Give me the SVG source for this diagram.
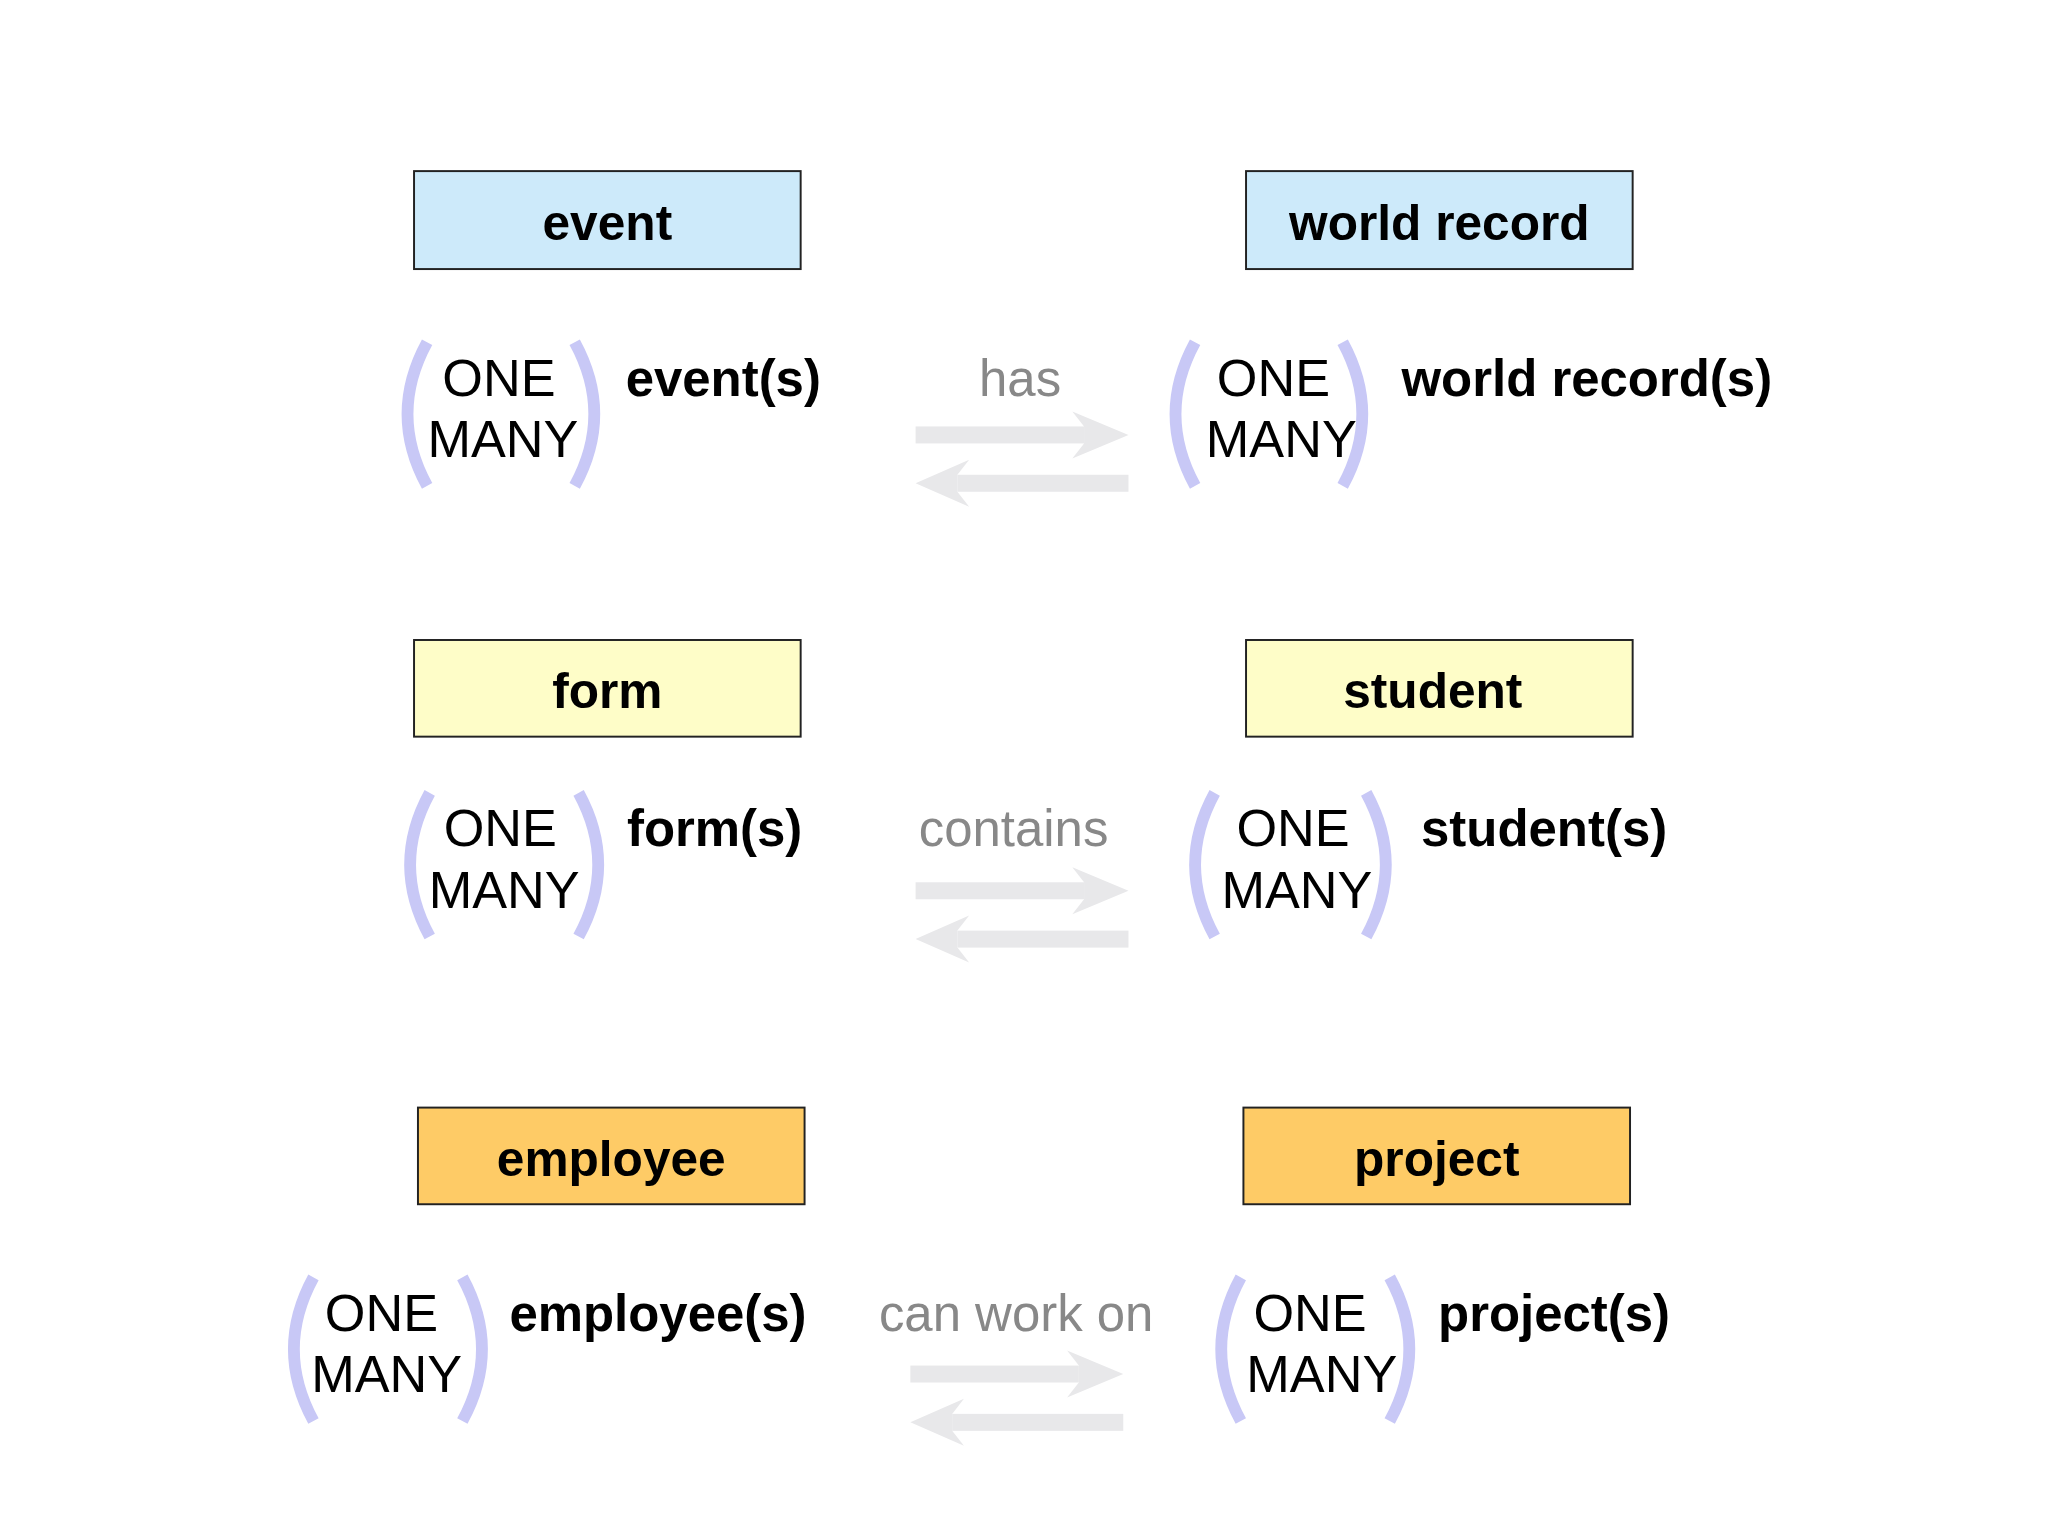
<svg xmlns="http://www.w3.org/2000/svg" width="2048" height="1536" viewBox="0 0 2048 1536">
<style>
.box{stroke:#222;stroke-width:1.5}
.bt{font-family:"Liberation Sans",Arial,sans-serif;font-weight:bold;font-size:38px;text-anchor:middle;fill:#000}
.om{font-family:"Liberation Sans",Arial,sans-serif;font-size:40px;text-anchor:middle;fill:#000}
.lb{font-family:"Liberation Sans",Arial,sans-serif;font-weight:bold;font-size:39px;fill:#000}
.rel{font-family:"Liberation Sans",Arial,sans-serif;font-size:39px;text-anchor:middle;fill:#888}
.par{fill:none;stroke:#c8c8f6;stroke-width:9}
.arr{fill:#e8e8ea}
</style>
<defs>
<g id="pl"><path class="par" d="M12,-55 Q-18,0 12,55"/></g>
<g id="pr"><path class="par" d="M-12,-55 Q18,0 -12,55"/></g>
<g id="arrows">
<rect class="arr" x="0" y="-6.5" width="129" height="13"/>
<path class="arr" d="M129,-6.5 L120,-18 L163,0 L120,18 L129,6.5 Z"/>
<rect class="arr" x="32" y="30.5" width="131" height="13"/>
<path class="arr" d="M32,30.5 L41,19 L0,37 L41,55 L32,43.5 Z"/>
</g>
</defs>
<rect width="2048" height="1536" fill="#fff"/>
<g transform="scale(1.30612)">
<g id="event"><rect class="box" x="317" y="131" width="296" height="75" fill="#cdeafa"/><text class="bt" x="465" y="184">event</text></g>
<g id="world-record"><rect class="box" x="954" y="131" width="296" height="75" fill="#cdeafa"/><text class="bt" x="1102" y="184">world record</text></g>
<g id="form"><rect class="box" x="317" y="490" width="296" height="74" fill="#fefdc8"/><text class="bt" x="465" y="542">form</text></g>
<g id="student"><rect class="box" x="954" y="490" width="296" height="74" fill="#fefdc8"/><text class="bt" x="1097" y="542">student</text></g>
<g id="employee"><rect class="box" x="320" y="848" width="296" height="74" fill="#fecb66"/><text class="bt" x="468" y="900">employee</text></g>
<g id="project"><rect class="box" x="952" y="848" width="296" height="74" fill="#fecb66"/><text class="bt" x="1100" y="900">project</text></g>

<g id="card-event"><use href="#pl" x="315" y="317"/><use href="#pr" x="452" y="317"/><text class="om" x="382" y="303">ONE</text><text class="om" x="385" y="350">MANY</text><text class="lb" x="479" y="303">event(s)</text></g>
<g id="card-wr"><use href="#pl" x="903" y="317"/><use href="#pr" x="1040" y="317"/><text class="om" x="975" y="303">ONE</text><text class="om" x="981" y="350">MANY</text><text class="lb" x="1073" y="303">world record(s)</text></g>
<g id="card-form"><use href="#pl" x="317" y="662"/><use href="#pr" x="455" y="662"/><text class="om" x="383" y="648">ONE</text><text class="om" x="386" y="695">MANY</text><text class="lb" x="480" y="648">form(s)</text></g>
<g id="card-student"><use href="#pl" x="918" y="662"/><use href="#pr" x="1058" y="662"/><text class="om" x="990" y="648">ONE</text><text class="om" x="993" y="695">MANY</text><text class="lb" x="1088" y="648">student(s)</text></g>
<g id="card-employee"><use href="#pl" x="228" y="1033"/><use href="#pr" x="366" y="1033"/><text class="om" x="292" y="1019">ONE</text><text class="om" x="296" y="1066">MANY</text><text class="lb" x="390" y="1019">employee(s)</text></g>
<g id="card-project"><use href="#pl" x="938" y="1033"/><use href="#pr" x="1076" y="1033"/><text class="om" x="1003" y="1019">ONE</text><text class="om" x="1012" y="1066">MANY</text><text class="lb" x="1101" y="1019">project(s)</text></g>

<g id="connectors">
<text class="rel" x="781" y="303">has</text><use href="#arrows" x="701" y="333"/>
<text class="rel" x="776" y="648">contains</text><use href="#arrows" x="701" y="682"/>
<text class="rel" x="778" y="1019">can work on</text><use href="#arrows" x="697" y="1052"/>
</g>
</g>
</svg>
